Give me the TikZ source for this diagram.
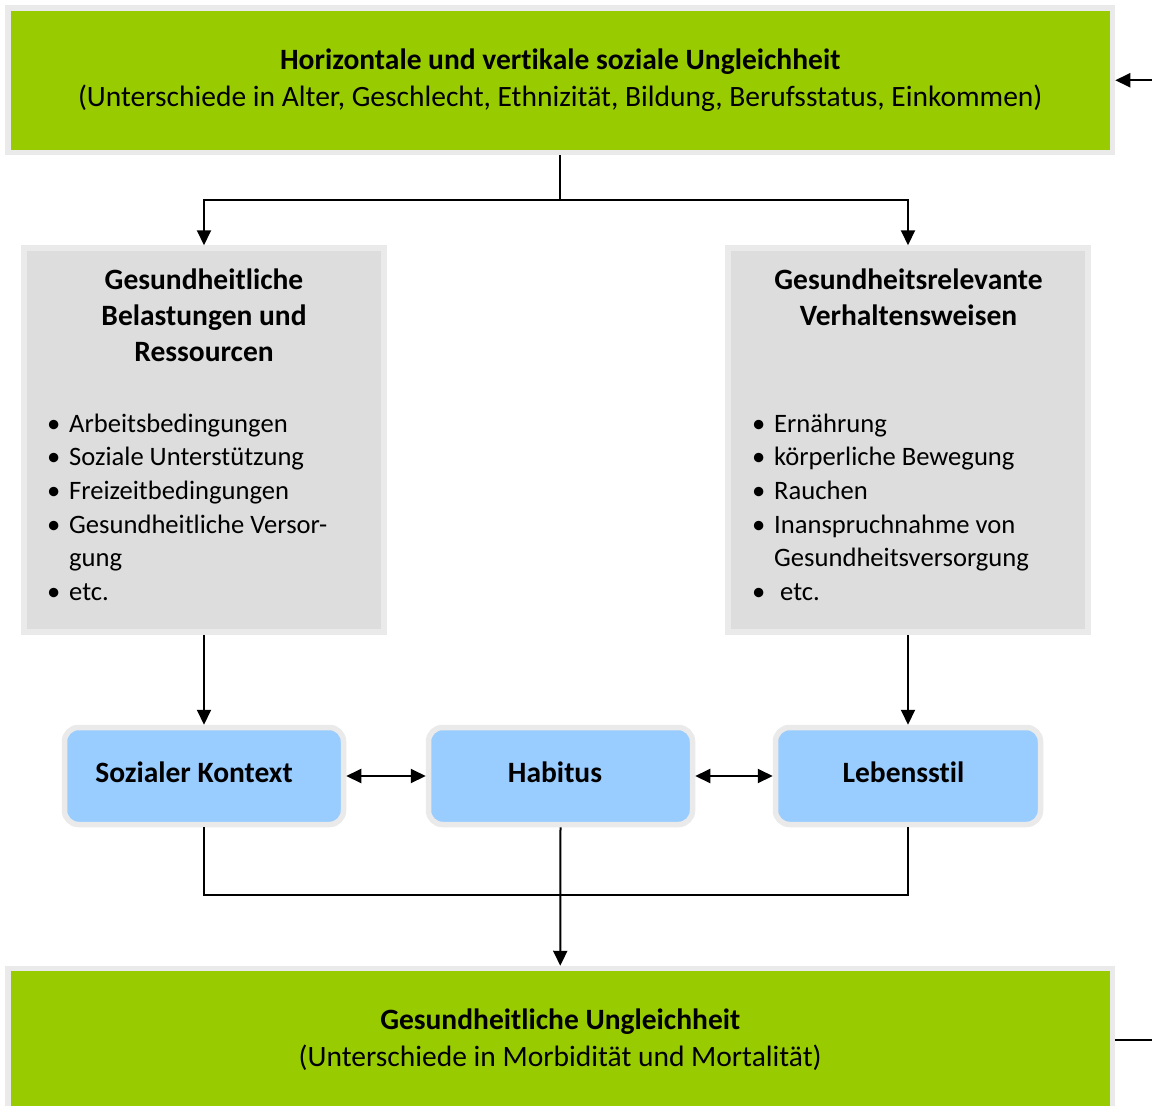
\documentclass[tikz,border=0pt]{standalone}
\usepackage{fontspec}
\setmainfont{Carlito}[Ligatures={NoCommon}]
\usetikzlibrary{arrows.meta}
\definecolor{boxgreen}{HTML}{99CC00}
\definecolor{boxgray}{HTML}{DDDDDD}
\definecolor{boxblue}{HTML}{99CCFF}
\definecolor{rim}{HTML}{EAEAEA}
\newcommand\bul{\textbullet}

\begin{document}
\begin{tikzpicture}[x=1pt,y=-1pt,
  rimbox/.style={draw=rim, line width=5.5pt, inner sep=0pt},
  greenbox/.style={rimbox, fill=boxgreen, align=center, font=\fontsize{29.5}{36.5}\selectfont},
  graybox/.style={rimbox, fill=boxgray},
  bluebox/.style={rimbox, fill=boxblue, rounded corners=14pt, text height=20pt, text depth=7pt,
    font=\fontsize{29.5}{31}\selectfont\bfseries},
  title/.style={align=center, font=\fontsize{29.5}{36}\selectfont\bfseries, inner sep=0pt},
  list/.style={inner sep=0pt, font=\fontsize{26.6}{33.6}\selectfont, anchor=north west},
  conn/.style={line width=2pt},
  arr/.style={conn, -{Triangle[length=15pt,width=14pt]}},
  darr/.style={conn, {Triangle[length=15pt,width=14pt]}-{Triangle[length=15pt,width=14pt]}},
]
\useasboundingbox (0,0) rectangle (1152,1106);
\fill[white] (0,0) rectangle (1152,1106);

% social inequality (top) and health inequality (bottom)
\node[greenbox, minimum width=1104.5pt, minimum height=144.5pt] (top) at (560.25,80.25)
  {\textbf{Horizontale und vertikale soziale Ungleichheit}\\(Unterschiede in Alter, Geschlecht, Ethnizität, Bildung, Berufsstatus, Einkommen)\rule[-4pt]{0pt}{0pt}};
\node[greenbox, minimum width=1104.5pt, minimum height=142pt] (bottom) at (560.25,1039.5)
  {\textbf{Gesundheitliche Ungleichheit}\\(Unterschiede in Morbidität und Mortalität)\rule[-4pt]{0pt}{0pt}};

% the two grey factor boxes
\node[graybox, minimum width=360pt, minimum height=384pt] (load) at (204,440) {};
\node[graybox, minimum width=360pt, minimum height=384pt] (behav) at (908,440) {};

% titles: anchor base sits on the last line
\node[title, anchor=base] (loadT) at (204,361) {Gesundheitliche\\Belastungen und\\Ressourcen};
\node[title, anchor=base] (behavT) at (908.5,325) {Gesundheitsrelevante\\Verhaltensweisen};

\node[list] (loadL) at (47,408.5) {\begin{tabular}{@{}p{22pt}@{}l@{}}
  \bul & Arbeitsbedingungen\\
  \bul & Soziale Unterstützung\\
  \bul & Freizeitbedingungen\\
  \bul & Gesundheitliche Versor-\\
       & gung\\
  \bul & etc.
\end{tabular}};
\node[list] (behavL) at (752,408.5) {\begin{tabular}{@{}p{22pt}@{}l@{}}
  \bul & Ernährung\\
  \bul & körperliche Bewegung\\
  \bul & Rauchen\\
  \bul & Inanspruchnahme von\\
       & Gesundheitsversorgung\\
  \bul & \hspace{6pt}etc.
\end{tabular}};

% the three blue context boxes
\node[bluebox, minimum width=279pt, minimum height=97pt] (ctx) at (204,776) {Sozialer Kontext\hspace*{20pt}};
\node[bluebox, minimum width=264pt, minimum height=97pt] (hab) at (560.5,776) {Habitus\hspace*{11pt}};
\node[bluebox, minimum width=265pt, minimum height=97pt] (life) at (908,776) {Lebensstil\hspace*{9pt}};

% connectors
\coordinate (split) at (560.25,200);
\draw[conn] (top.south) -- (split);
\draw[arr] (split) -| (load.north);
\draw[arr] (split) -| (behav.north);
\draw[arr] (load.south) -- (ctx.north);
\draw[arr] (behav.south) -- (life.north);
\draw[darr] (ctx.east) -- (hab.west);
\draw[darr] (hab.east) -- (life.west);
\coordinate (join) at (560.5,895);
\draw[conn] (ctx.south) |- (join) -| (life.south);
\draw[arr] (hab.south) -- (bottom.north);
\coordinate (inR) at (1152,80.25);
\draw[arr] (inR) -- (top.east);
\coordinate (outR) at (1152,1039.5);
\draw[conn] (bottom.east) -- (outR);
\end{tikzpicture}
\end{document}
